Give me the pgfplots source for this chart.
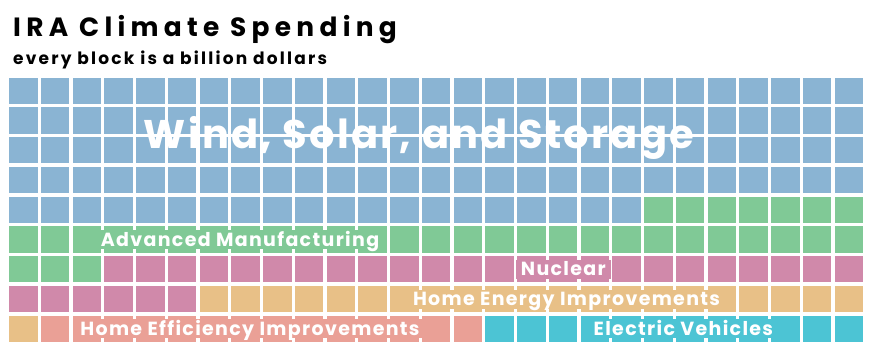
\documentclass[border=0pt]{standalone}
\usepackage{pgfplots}
\pgfplotsset{compat=1.18}
\usepackage{fontspec}
\setmainfont{Poppins}
\newfontfamily\titlefont{Poppins}[LetterSpace=20]
\newfontfamily\subfont{Poppins}[LetterSpace=13]
\newfontfamily\bigfont{Poppins}[LetterSpace=5.5]
\newfontfamily\labfont{Poppins}[LetterSpace=7]
\definecolor{cBlue}{HTML}{8AB4D3}
\definecolor{cGreen}{HTML}{80C996}
\definecolor{cPink}{HTML}{D089AA}
\definecolor{cOrange}{HTML}{E8C087}
\definecolor{cSalmon}{HTML}{EAA096}
\definecolor{cTeal}{HTML}{4CC4D4}
\pgfdeclareplotmark{block}{%
  \pgfpathrectangle{\pgfqpoint{-14.3pt}{-13.15pt}}{\pgfqpoint{28.6pt}{26.3pt}}%
  \pgfusepath{fill}}
\tikzset{blocklabel/.style={anchor=center, inner xsep=5pt, inner ysep=0pt,
  minimum height=19pt, text height=13.3pt, text depth=0pt, text=white,
  font=\labfont\bfseries\fontsize{19}{22}\selectfont}}
\begin{document}
\begin{tikzpicture}
\useasboundingbox (0,0) rectangle (872pt,343pt);
\begin{axis}[
  at={(0,0)}, anchor=south west,
  scale only axis, width=872pt, height=343pt,
  xmin=-0.7339, xmax=26.731,
  ymin=-3.0504, ymax=8.479,
  y dir=reverse, clip=false, hide axis,
  every axis plot/.append style={only marks, mark=block},
]
% Wind, Solar, and Storage (128)
\addplot[cBlue, mark options={fill=cBlue}] coordinates {
(0,0)(1,0)(2,0)(3,0)(4,0)(5,0)(6,0)(7,0)(8,0)(9,0)(10,0)(11,0)(12,0)(13,0)(14,0)(15,0)(16,0)(17,0)(18,0)(19,0)(20,0)(21,0)(22,0)(23,0)(24,0)(25,0)(26,0)
(0,1)(1,1)(2,1)(3,1)(4,1)(5,1)(6,1)(7,1)(8,1)(9,1)(10,1)(11,1)(12,1)(13,1)(14,1)(15,1)(16,1)(17,1)(18,1)(19,1)(20,1)(21,1)(22,1)(23,1)(24,1)(25,1)(26,1)
(0,2)(1,2)(2,2)(3,2)(4,2)(5,2)(6,2)(7,2)(8,2)(9,2)(10,2)(11,2)(12,2)(13,2)(14,2)(15,2)(16,2)(17,2)(18,2)(19,2)(20,2)(21,2)(22,2)(23,2)(24,2)(25,2)(26,2)
(0,3)(1,3)(2,3)(3,3)(4,3)(5,3)(6,3)(7,3)(8,3)(9,3)(10,3)(11,3)(12,3)(13,3)(14,3)(15,3)(16,3)(17,3)(18,3)(19,3)(20,3)(21,3)(22,3)(23,3)(24,3)(25,3)(26,3)
(0,4)(1,4)(2,4)(3,4)(4,4)(5,4)(6,4)(7,4)(8,4)(9,4)(10,4)(11,4)(12,4)(13,4)(14,4)(15,4)(16,4)(17,4)(18,4)(19,4)
};
% Advanced Manufacturing (37)
\addplot[cGreen, mark options={fill=cGreen}] coordinates {
(20,4)(21,4)(22,4)(23,4)(24,4)(25,4)(26,4)
(0,5)(1,5)(2,5)(3,5)(4,5)(5,5)(6,5)(7,5)(8,5)(9,5)(10,5)(11,5)(12,5)(13,5)(14,5)(15,5)(16,5)(17,5)(18,5)(19,5)(20,5)(21,5)(22,5)(23,5)(24,5)(25,5)(26,5)
(0,6)(1,6)(2,6)
};
% Nuclear (30)
\addplot[cPink, mark options={fill=cPink}] coordinates {
(3,6)(4,6)(5,6)(6,6)(7,6)(8,6)(9,6)(10,6)(11,6)(12,6)(13,6)(14,6)(15,6)(16,6)(17,6)(18,6)(19,6)(20,6)(21,6)(22,6)(23,6)(24,6)(25,6)(26,6)
(0,7)(1,7)(2,7)(3,7)(4,7)(5,7)
};
% Home Energy Improvements (22)
\addplot[cOrange, mark options={fill=cOrange}] coordinates {
(6,7)(7,7)(8,7)(9,7)(10,7)(11,7)(12,7)(13,7)(14,7)(15,7)(16,7)(17,7)(18,7)(19,7)(20,7)(21,7)(22,7)(23,7)(24,7)(25,7)(26,7)
(0,8)
};
% Home Efficiency Improvements (14)
\addplot[cSalmon, mark options={fill=cSalmon}] coordinates {
(1,8)(2,8)(3,8)(4,8)(5,8)(6,8)(7,8)(8,8)(9,8)(10,8)(11,8)(12,8)(13,8)(14,8)
};
% Electric Vehicles (12 visible)
\addplot[cTeal, mark options={fill=cTeal}] coordinates {
(15,8)(16,8)(17,8)(18,8)(19,8)(20,8)(21,8)(22,8)(23,8)(24,8)(25,8)(26,8)
};
\coordinate (tT) at (axis cs:-0.324,-1.817);
\coordinate (tS) at (axis cs:-0.324,-0.866);
\coordinate (lW) at (axis cs:12.46,1.934);
\coordinate (lA) at (axis cs:6.825,5);
\coordinate (lN) at (axis cs:17.01,6);
\coordinate (lH) at (axis cs:17.11,7);
\coordinate (lF) at (axis cs:7.14,8);
\coordinate (lE) at (axis cs:20.79,8);
\end{axis}
\node[anchor=base west, inner sep=0pt, font=\titlefont\bfseries\fontsize{26.4}{30}\selectfont] at (tT) {IRA Climate Spending};
\node[anchor=base west, inner sep=0pt, font=\subfont\bfseries\fontsize{17}{20}\selectfont] at (tS) {every block is a billion dollars};
\node[anchor=base, inner sep=0pt, text=white, font=\bigfont\bfseries\fontsize{40}{44}\selectfont] at (lW) {Wind, Solar, and Storage};
\node[blocklabel, fill=cGreen] at (lA) {Advanced Manufacturing};
\node[blocklabel, fill=cPink] at (lN) {Nuclear};
\node[blocklabel, fill=cOrange] at (lH) {Home Energy Improvements};
\node[blocklabel, fill=cSalmon] at (lF) {Home Efficiency Improvements};
\node[blocklabel, fill=cTeal] at (lE) {Electric Vehicles};
\end{tikzpicture}
\end{document}
